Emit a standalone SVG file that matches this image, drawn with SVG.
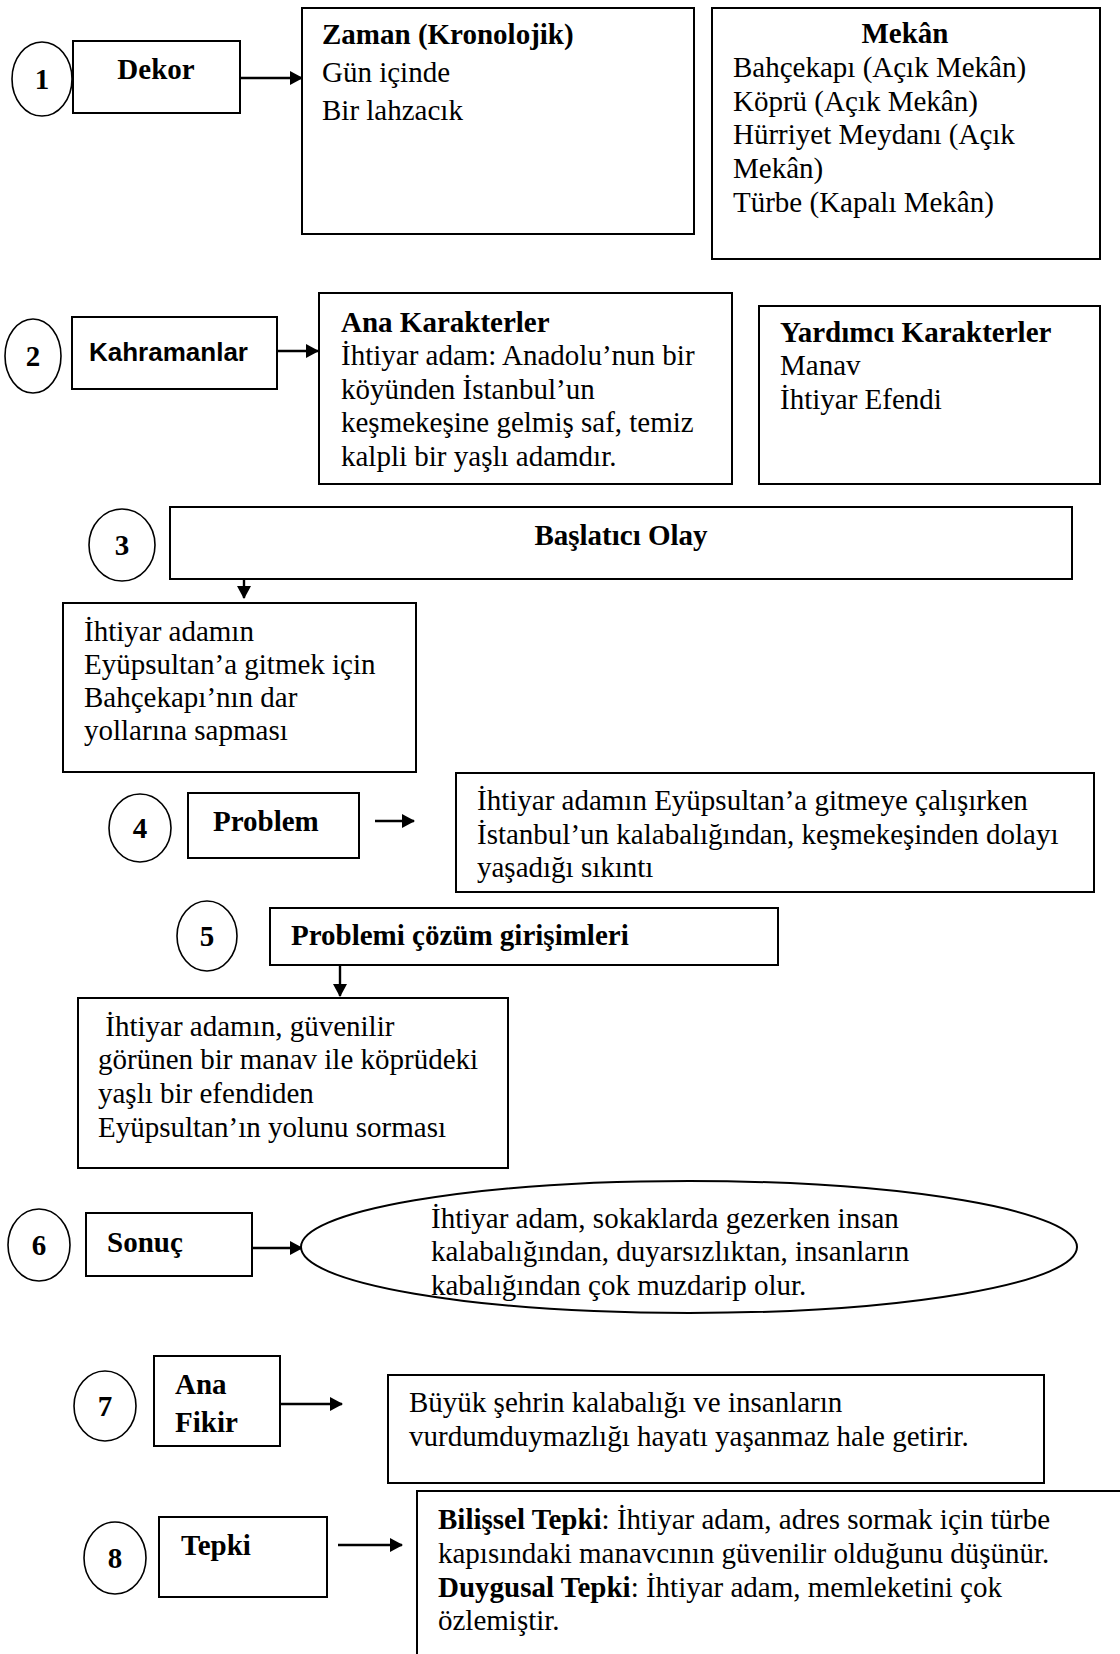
<svg xmlns="http://www.w3.org/2000/svg" width="1120" height="1654" viewBox="0 0 1120 1654">
<style>
text{font-family:"Liberation Serif","Times New Roman",serif;font-size:29px;fill:#000}
.b{font-weight:bold}
.num{font-weight:bold;font-size:29px;text-anchor:middle}
.sans{font-family:"Liberation Sans",Arial,sans-serif;font-weight:bold;font-size:26px}
.box{fill:#fff;stroke:#000;stroke-width:2}
.circ{fill:#fff;stroke:#000;stroke-width:1.6}
.con line{stroke:#000;stroke-width:2.4}
</style>
<defs>
<marker id="ahs" markerWidth="13" markerHeight="14" refX="12" refY="7" orient="auto" markerUnits="userSpaceOnUse" viewBox="0 0 13 14">
<path d="M0,0 L13,7 L0,14 z" fill="#000"/>
</marker>
</defs>
<rect width="1120" height="1654" fill="#fff"/>

<g id="connectors" class="con">
<line x1="241" y1="78" x2="302" y2="78" marker-end="url(#ahs)"/>
<line x1="277" y1="351" x2="318" y2="351" marker-end="url(#ahs)"/>
<line x1="244" y1="560" x2="244" y2="598" marker-end="url(#ahs)"/>
<line x1="375" y1="821" x2="414" y2="821" marker-end="url(#ahs)"/>
<line x1="340" y1="956" x2="340" y2="996" marker-end="url(#ahs)"/>
<line x1="252" y1="1248" x2="302" y2="1248" marker-end="url(#ahs)"/>
<line x1="280" y1="1404" x2="342" y2="1404" marker-end="url(#ahs)"/>
<line x1="338" y1="1545" x2="402" y2="1545" marker-end="url(#ahs)"/>
</g>

<g id="n1">
<ellipse class="circ" cx="42" cy="79" rx="30" ry="37"/>
<text class="num" x="42" y="89">1</text>
</g>
<g id="dekor">
<rect class="box" x="73" y="41" width="167" height="72"/>
<text class="b" x="156" y="79" text-anchor="middle">Dekor</text>
</g>
<g id="zaman">
<rect class="box" x="302" y="8" width="392" height="226"/>
<text class="b" x="322" y="44">Zaman (Kronolojik)</text>
<text x="322" y="82">Gün içinde</text>
<text x="322" y="120">Bir lahzacık</text>
</g>
<g id="mekan">
<rect class="box" x="712" y="8" width="388" height="251"/>
<text class="b" x="905" y="43" text-anchor="middle">Mekân</text>
<text x="733" y="77">Bahçekapı (Açık Mekân)</text>
<text x="733" y="111">Köprü (Açık Mekân)</text>
<text x="733" y="144">Hürriyet Meydanı (Açık</text>
<text x="733" y="178">Mekân)</text>
<text x="733" y="212">Türbe  (Kapalı Mekân)</text>
</g>

<g id="n2">
<ellipse class="circ" cx="33" cy="356" rx="28" ry="37"/>
<text class="num" x="33" y="366">2</text>
</g>
<g id="kahramanlar">
<rect class="box" x="72" y="317" width="205" height="72"/>
<text class="sans" x="89" y="361">Kahramanlar</text>
</g>
<g id="ana-karakterler">
<rect class="box" x="319" y="293" width="413" height="191"/>
<text class="b" x="341" y="332">Ana Karakterler</text>
<text x="341" y="365">İhtiyar adam: Anadolu’nun bir</text>
<text x="341" y="399">köyünden İstanbul’un</text>
<text x="341" y="432">keşmekeşine gelmiş saf, temiz</text>
<text x="341" y="466">kalpli bir yaşlı adamdır.</text>
</g>
<g id="yardimci">
<rect class="box" x="759" y="306" width="341" height="178"/>
<text class="b" x="780" y="342">Yardımcı Karakterler</text>
<text x="780" y="375">Manav</text>
<text x="780" y="409">İhtiyar Efendi</text>
</g>

<g id="n3">
<ellipse class="circ" cx="122" cy="545" rx="33" ry="36"/>
<text class="num" x="122" y="555">3</text>
</g>
<g id="baslatici">
<rect class="box" x="170" y="507" width="902" height="72"/>
<text class="b" x="621" y="545" text-anchor="middle">Başlatıcı Olay</text>
</g>
<g id="baslatici-detay">
<rect class="box" x="63" y="603" width="353" height="169"/>
<text x="84" y="641">İhtiyar adamın</text>
<text x="84" y="674">Eyüpsultan’a gitmek için</text>
<text x="84" y="707">Bahçekapı’nın dar</text>
<text x="84" y="740">yollarına sapması</text>
</g>

<g id="n4">
<ellipse class="circ" cx="140" cy="828" rx="31" ry="34"/>
<text class="num" x="140" y="838">4</text>
</g>
<g id="problem">
<rect class="box" x="188" y="793" width="171" height="65"/>
<text class="b" x="213" y="831">Problem</text>
</g>
<g id="problem-detay">
<rect class="box" x="456" y="773" width="638" height="119"/>
<text x="477" y="810">İhtiyar adamın Eyüpsultan’a gitmeye çalışırken</text>
<text x="477" y="844">İstanbul’un kalabalığından, keşmekeşinden dolayı</text>
<text x="477" y="877">yaşadığı sıkıntı</text>
</g>

<g id="n5">
<ellipse class="circ" cx="207" cy="936" rx="30" ry="35"/>
<text class="num" x="207" y="946">5</text>
</g>
<g id="cozum">
<rect class="box" x="270" y="908" width="508" height="57"/>
<text class="b" x="291" y="945">Problemi çözüm girişimleri</text>
</g>
<g id="cozum-detay">
<rect class="box" x="78" y="998" width="430" height="170"/>
<text x="98" y="1036" xml:space="preserve"> İhtiyar adamın, güvenilir</text>
<text x="98" y="1069">görünen bir manav ile köprüdeki</text>
<text x="98" y="1103">yaşlı bir efendiden</text>
<text x="98" y="1137">Eyüpsultan’ın yolunu sorması</text>
</g>

<g id="n6">
<ellipse class="circ" cx="39" cy="1245" rx="31" ry="36"/>
<text class="num" x="39" y="1255">6</text>
</g>
<g id="sonuc">
<rect class="box" x="86" y="1213" width="166" height="63"/>
<text class="b" x="107" y="1252">Sonuç</text>
</g>
<g id="sonuc-detay">
<ellipse class="box" cx="689" cy="1247" rx="388" ry="66"/>
<text x="431" y="1228">İhtiyar adam, sokaklarda gezerken insan</text>
<text x="431" y="1261">kalabalığından, duyarsızlıktan, insanların</text>
<text x="431" y="1295">kabalığından çok muzdarip olur.</text>
</g>

<g id="n7">
<ellipse class="circ" cx="105" cy="1406" rx="31" ry="35"/>
<text class="num" x="105" y="1416">7</text>
</g>
<g id="ana-fikir">
<rect class="box" x="154" y="1356" width="126" height="90"/>
<text class="b" x="175" y="1394">Ana</text>
<text class="b" x="175" y="1432">Fikir</text>
</g>
<g id="ana-fikir-detay">
<rect class="box" x="388" y="1375" width="656" height="108"/>
<text x="409" y="1412">Büyük şehrin kalabalığı ve insanların</text>
<text x="409" y="1446">vurdumduymazlığı hayatı yaşanmaz hale getirir.</text>
</g>

<g id="n8">
<ellipse class="circ" cx="115" cy="1558" rx="31" ry="36"/>
<text class="num" x="115" y="1568">8</text>
</g>
<g id="tepki">
<rect class="box" x="159" y="1517" width="168" height="80"/>
<text class="b" x="181" y="1555">Tepki</text>
</g>
<g id="tepki-detay">
<rect class="box" x="417" y="1491" width="720" height="180"/>
<text x="438" y="1529"><tspan class="b">Bilişsel Tepki</tspan>: İhtiyar adam, adres sormak için türbe</text>
<text x="438" y="1563">kapısındaki manavcının güvenilir olduğunu düşünür.</text>
<text x="438" y="1597"><tspan class="b">Duygusal Tepki</tspan>: İhtiyar adam, memleketini çok</text>
<text x="438" y="1630">özlemiştir.</text>
</g>
</svg>
